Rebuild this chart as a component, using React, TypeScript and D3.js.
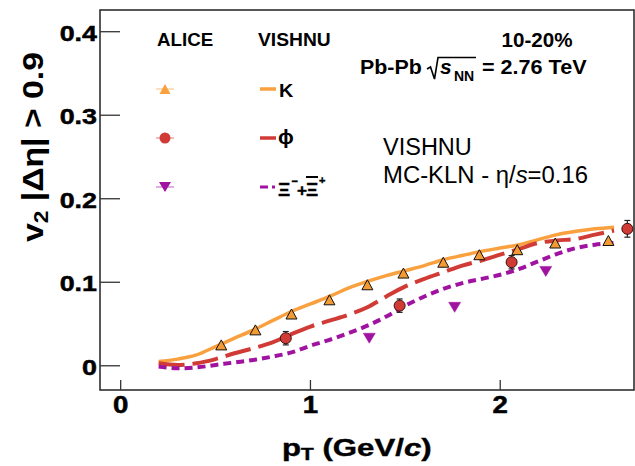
import React from "react";
import * as d3 from "d3";

// ALICE measurements, Pb-Pb 10-20%
const kPt = [0.53, 0.71, 0.9, 1.1, 1.3, 1.49, 1.7, 1.89, 2.09, 2.29, 2.57];
const kV2 = [0.025, 0.043, 0.062, 0.079, 0.097, 0.111, 0.124, 0.133, 0.139, 0.147, 0.15];

const phiPt = [0.87, 1.47, 2.06, 2.67];
const phiV2 = [0.033, 0.072, 0.124, 0.164];
const phiErr = [0.008, 0.008, 0.008, 0.01];

const xiPt = [1.31, 1.76, 2.24];
const xiV2 = [0.033, 0.07, 0.113];

// VISHNU hydro curves (MC-KLN, eta/s = 0.16)
const modelPt = [0.2, 0.3, 0.4, 0.5, 0.6, 0.7, 0.8, 0.9, 1.0, 1.1, 1.2, 1.3, 1.4, 1.5, 1.6, 1.7, 1.8, 1.9, 2.0, 2.1, 2.2, 2.3, 2.4, 2.5, 2.6];
const kModel = [0.005, 0.008, 0.013, 0.023, 0.033, 0.043, 0.054, 0.065, 0.074, 0.083, 0.093, 0.101, 0.108, 0.114, 0.12, 0.127, 0.132, 0.137, 0.141, 0.145, 0.151, 0.157, 0.161, 0.164, 0.166];
const phiModel = [0.003, 0.001, 0.003, 0.008, 0.015, 0.021, 0.028, 0.038, 0.047, 0.054, 0.061, 0.07, 0.083, 0.095, 0.104, 0.112, 0.12, 0.126, 0.133, 0.14, 0.147, 0.15, 0.152, 0.157, 0.162];
const xiModel = [-0.001, -0.003, -0.002, 0.001, 0.004, 0.007, 0.011, 0.016, 0.024, 0.031, 0.039, 0.048, 0.059, 0.072, 0.083, 0.092, 0.099, 0.104, 0.109, 0.116, 0.125, 0.134, 0.141, 0.145, 0.147];

const xTicks = [0, 1, 2];
const yTicks = [0, 0.1, 0.2, 0.3, 0.4];

const W = 635;
const H = 466;
const FONT = "'Liberation Sans', Arial, Helvetica, sans-serif";

const K_COLOR = "#f9a03f";
const K_FILL = "#f39a33";
const PHI_COLOR = "#d03b36";
const XI_COLOR = "#a012a0";

const frame = { left: 100, top: 10, right: 634, bottom: 390 };

const x = d3.scaleLinear().domain([-0.109, 2.705]).range([frame.left, frame.right]);
const y = d3.scaleLinear().domain([-0.029, 0.426]).range([frame.bottom, frame.top]);

const line = d3
  .line<[number, number]>()
  .x((d) => x(d[0]))
  .y((d) => y(d[1]))
  .curve(d3.curveCatmullRom.alpha(0.5));

const upTri = (cx: number, cy: number, w = 11, h = 10) =>
  `M${cx - w / 2},${cy + h / 2}L${cx + w / 2},${cy + h / 2}L${cx},${cy - h / 2}Z`;
const downTri = (cx: number, cy: number, w = 12, h = 10) =>
  `M${cx - w / 2},${cy - h / 2}L${cx + w / 2},${cy - h / 2}L${cx},${cy + h / 2}Z`;

function Txt(props: {
  x: number;
  y: number;
  size: number;
  sx?: number;
  anchor?: "start" | "middle" | "end";
  weight?: string | number;
  children: React.ReactNode;
}) {
  const { sx = 1, anchor = "start", weight = "bold" } = props;
  return (
    <text
      transform={`translate(${props.x},${props.y}) scale(${sx},1)`}
      textAnchor={anchor}
      fontFamily={FONT}
      fontSize={props.size}
      fontWeight={weight}
      fill="#000"
    >
      {props.children}
    </text>
  );
}

export default function App() {
  const kLine = line(modelPt.map((p, i) => [p, kModel[i]] as [number, number])) || "";
  const phiLine = line(modelPt.map((p, i) => [p, phiModel[i]] as [number, number])) || "";
  const xiLine = line(modelPt.map((p, i) => [p, xiModel[i]] as [number, number])) || "";

  return (
    <svg
      width={W}
      height={H}
      viewBox={`0 0 ${W} ${H}`}
      style={{ position: "absolute", left: 0, top: 0, background: "#fff" }}
    >
      <rect x={0} y={0} width={W} height={H} fill="#fff" />

      {/* axis frame */}
      <rect
        x={frame.left}
        y={frame.top}
        width={frame.right - frame.left}
        height={frame.bottom - frame.top}
        fill="none"
        stroke="#222"
        strokeWidth={1.5}
      />

      {/* y ticks and labels */}
      {yTicks.map((t) => (
        <g key={`y${t}`}>
          <line x1={frame.left} x2={frame.left + 20} y1={y(t)} y2={y(t)} stroke="#333" strokeWidth={1.3} />
          <g stroke="#000" strokeWidth={0.5}>
            <Txt x={97} y={y(t) + 9} size={22} sx={1.22} anchor="end">
              {t === 0 ? "0" : t.toFixed(1)}
            </Txt>
          </g>
        </g>
      ))}

      {/* x ticks and labels */}
      {xTicks.map((t) => (
        <g key={`x${t}`}>
          <line x1={x(t)} x2={x(t)} y1={frame.bottom} y2={frame.bottom - 10} stroke="#333" strokeWidth={1.3} />
          <g stroke="#000" strokeWidth={0.5}>
            <Txt x={x(t)} y={413} size={23} sx={1.2} anchor="middle">
              {String(t)}
            </Txt>
          </g>
        </g>
      ))}

      {/* axis titles */}
      <text
        transform="translate(282,456) scale(1.3,1)"
        fontFamily={FONT}
        fontSize={24}
        fontWeight="bold"
        stroke="#000"
        strokeWidth={0.4}
      >
        p
        <tspan fontSize={16} dy={4}>T</tspan>
        <tspan dy={-4}> (GeV/</tspan>
        <tspan fontStyle="italic">c</tspan>
        <tspan>)</tspan>
      </text>
      <text
        transform="translate(43,242) rotate(-90)"
        fontFamily={FONT}
        fontSize={30}
        fontWeight="bold"
        textLength={190}
        lengthAdjust="spacingAndGlyphs"
      >
        v
        <tspan fontSize={20} dy={5}>2</tspan>
        <tspan dy={-5}> |Δη| &gt; 0.9</tspan>
      </text>

      {/* model curves */}
      <path d={kLine} fill="none" stroke={K_COLOR} strokeWidth={3.5} />
      <path d={phiLine} fill="none" stroke={PHI_COLOR} strokeWidth={4} strokeDasharray="26,8" />
      <path d={xiLine} fill="none" stroke={XI_COLOR} strokeWidth={4} strokeDasharray="8,5" />

      {/* K data */}
      {kPt.map((p, i) => (
        <path key={`k${i}`} d={upTri(x(p), y(kV2[i]))} fill={K_FILL} stroke="#111" strokeWidth={1} />
      ))}

      {/* Xi data */}
      {xiPt.map((p, i) => (
        <path key={`xi${i}`} d={downTri(x(p), y(xiV2[i]))} fill={XI_COLOR} stroke={XI_COLOR} strokeWidth={0.5} />
      ))}

      {/* phi data with errors */}
      {phiPt.map((p, i) => {
        const cx = x(p);
        const y1 = y(phiV2[i] - phiErr[i]);
        const y2 = y(phiV2[i] + phiErr[i]);
        return (
          <g key={`phi${i}`}>
            <line x1={cx} x2={cx} y1={y1} y2={y2} stroke="#222" strokeWidth={1.2} />
            <line x1={cx - 3} x2={cx + 3} y1={y1} y2={y1} stroke="#222" strokeWidth={1.2} />
            <line x1={cx - 3} x2={cx + 3} y1={y2} y2={y2} stroke="#222" strokeWidth={1.2} />
            <circle cx={cx} cy={y(phiV2[i])} r={5.5} fill={PHI_COLOR} stroke="#3a1010" strokeWidth={1} />
          </g>
        );
      })}

      {/* legend */}
      <Txt x={157} y={46} size={17.5} sx={1.07}>ALICE</Txt>
      <Txt x={258} y={46} size={17.5} sx={1.1}>VISHNU</Txt>

      <line x1={156} x2={174} y1={89} y2={89} stroke={K_COLOR} strokeOpacity={0.45} strokeWidth={1.5} />
      <path d={upTri(165, 89, 11, 10)} fill={K_COLOR} />
      <line x1={260} x2={276} y1={89} y2={89} stroke={K_COLOR} strokeWidth={3.5} />
      <Txt x={279} y={97} size={18} sx={1.1}>K</Txt>

      <line x1={156} x2={174} y1={138} y2={138} stroke={PHI_COLOR} strokeOpacity={0.45} strokeWidth={1.5} />
      <circle cx={165} cy={138} r={5.5} fill={PHI_COLOR} />
      <line x1={260} x2={276} y1={138} y2={138} stroke={PHI_COLOR} strokeWidth={3.5} />
      <Txt x={278} y={144} size={21}>ϕ</Txt>

      <line x1={156} x2={174} y1={187} y2={187} stroke={XI_COLOR} strokeOpacity={0.45} strokeWidth={1.5} />
      <path d={downTri(165, 187, 12, 10)} fill={XI_COLOR} />
      <line x1={260} x2={268} y1={187} y2={187} stroke={XI_COLOR} strokeWidth={3} />
      <line x1={272} x2={275} y1={187} y2={187} stroke={XI_COLOR} strokeWidth={3} />
      {/* Ξ⁻ + anti-Ξ⁺ label, built from separate pieces */}
      <g stroke="#000" strokeWidth={0.4}>
        <Txt x={278} y={196} size={19}>Ξ</Txt>
        <Txt x={291.5} y={185} size={11}>−</Txt>
        <Txt x={297} y={196} size={17}>+</Txt>
        <Txt x={306} y={196} size={19}>Ξ</Txt>
        <Txt x={319} y={184} size={11}>+</Txt>
      </g>
      <line x1={306} x2={318} y1={177} y2={177} stroke="#000" strokeWidth={2} />

      {/* collision system */}
      <Txt x={537} y={47} size={20} anchor="middle" sx={1.03}>10-20%</Txt>
      <Txt x={360} y={74} size={20} sx={1.07}>Pb-Pb</Txt>
      <path d="M427,69 L430.5,67 L434.5,79 L438,57.5 L476,57.5" fill="none" stroke="#000" strokeWidth={1.6} />
      <text x={440} y={74} fontFamily={FONT} fontSize={21} fontWeight="bold" fontStyle="italic">s</text>
      <Txt x={454} y={81} size={14}>NN</Txt>
      <Txt x={482} y={74} size={20} sx={1.08}>= 2.76 TeV</Txt>

      {/* model description */}
      <Txt x={383} y={155} size={23.5} weight="normal">VISHNU</Txt>
      <text
        x={383}
        y={183}
        fontFamily={FONT}
        fontSize={23}
        textLength={205}
        lengthAdjust="spacingAndGlyphs"
      >
        MC-KLN - η/<tspan fontStyle="italic">s</tspan>=0.16
      </text>
    </svg>
  );
}
